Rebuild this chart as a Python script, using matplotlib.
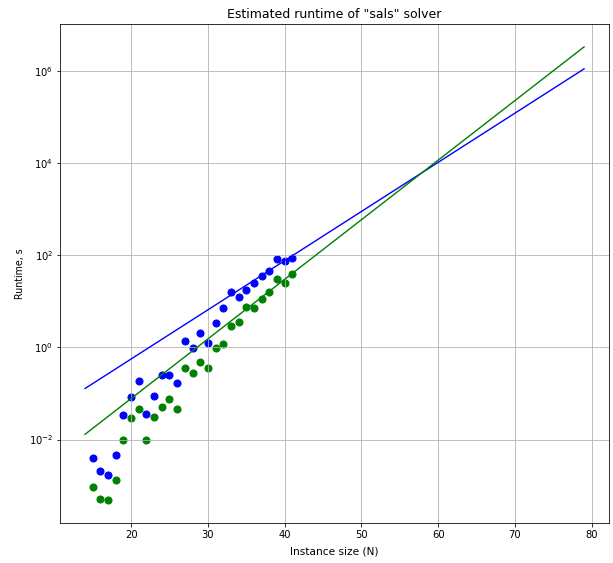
import matplotlib
matplotlib.use("Agg")
import matplotlib.pyplot as plt

# measured instance sizes
sizes = [15, 16, 17, 18, 19, 20, 21, 22, 23, 24, 25, 26, 27, 28,
         29, 30, 31, 32, 33, 34, 35, 36, 37, 38, 39, 40, 41]

# runtimes (seconds)
blue_runtime = [0.0039, 0.0021, 0.0017, 0.0047, 0.034, 0.083, 0.19, 0.035, 0.087,
                0.25, 0.25, 0.17, 1.37, 0.95, 2.0, 1.26, 3.4, 7.1, 15.9,
                12.6, 18.0, 25.0, 36.0, 45.6, 81.0, 76.0, 85.0]
green_runtime = [0.00094, 0.00051, 0.00048, 0.0013, 0.010, 0.030, 0.045, 0.010, 0.031,
                 0.051, 0.074, 0.046, 0.35, 0.28, 0.48, 0.35, 0.97, 1.16, 2.9,
                 3.6, 7.4, 7.0, 11.2, 15.7, 31.0, 24.6, 38.7]

# fitted estimate endpoints (straight in log scale)
fit_x = [14, 79]
blue_fit = [0.128, 1.1e6]
green_fit = [0.013, 3.3e6]


def main():
    fig = plt.figure(figsize=(613 / 72, 563 / 72), dpi=72)
    ax = fig.add_axes([0.098, 0.071, 0.8955, 0.886])
    ax.scatter(sizes, blue_runtime, color="blue", s=50)
    ax.scatter(sizes, green_runtime, color="green", s=50)
    ax.plot(fit_x, blue_fit, color="blue", lw=1.4)
    ax.plot(fit_x, green_fit, color="green", lw=1.4)
    ax.set_yscale("log")
    ax.set_title('Estimated runtime of "sals" solver', fontsize=12.5)
    ax.set_xlabel("Instance size (N)", fontsize=10.5, labelpad=6)
    ax.set_ylabel("Runtime, s", fontsize=9.5)
    ax.tick_params(labelsize=10)
    ax.grid(True)
    fig.savefig("out.png", dpi=72)
    plt.close()


if __name__ == "__main__":
    main()
